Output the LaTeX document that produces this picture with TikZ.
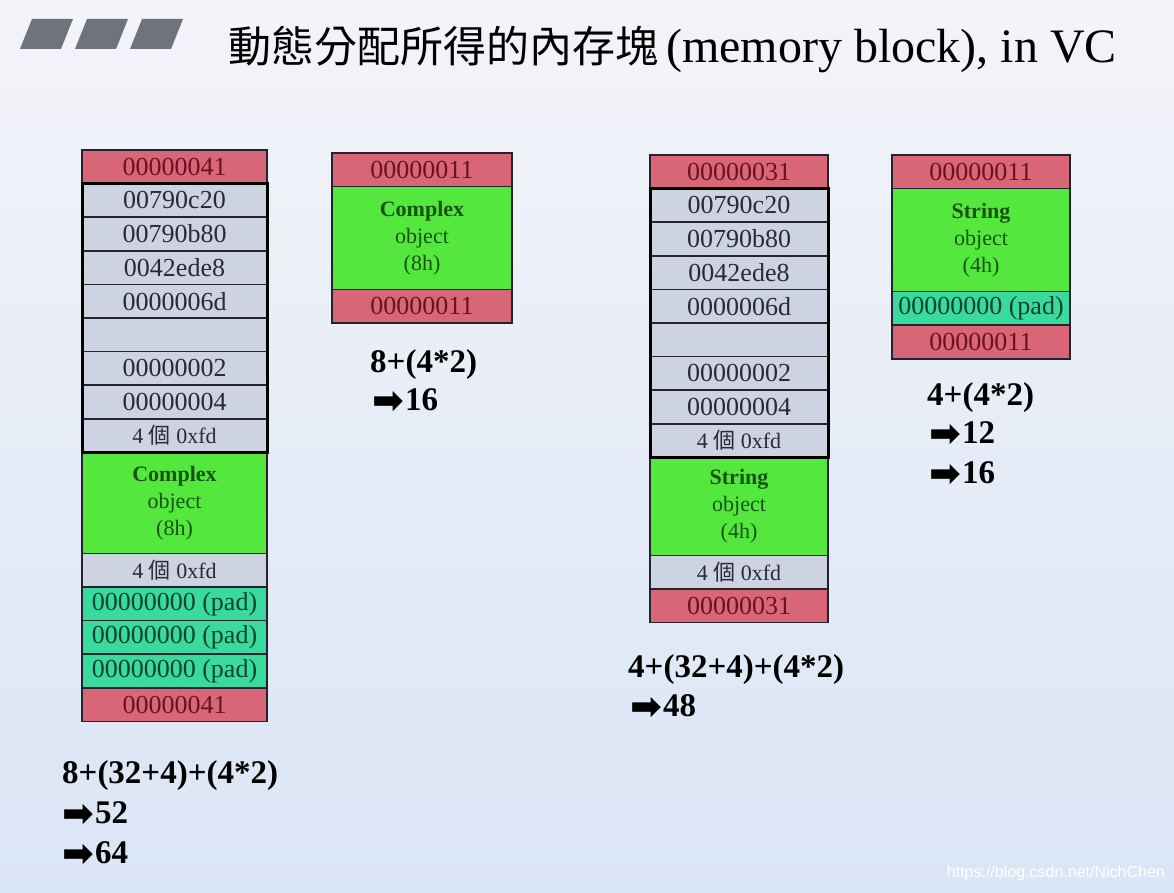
\documentclass[tikz,border=0pt]{standalone}
\usepackage{fontspec}
\setmainfont{Liberation Serif}
\newfontfamily\cjkfont{Noto Sans CJK TC}
\newfontfamily\symfont{DejaVu Sans}
\newfontfamily\urlfont{Liberation Sans}
\usetikzlibrary{positioning}
\definecolor{bgtop}{RGB}{243,244,248}
\definecolor{bgbot}{RGB}{218,229,246}
\definecolor{barfill}{RGB}{112,114,125}
\definecolor{cellline}{RGB}{35,35,48}
\definecolor{hdrred}{RGB}{216,102,118}
\definecolor{hdrtext}{RGB}{105,18,35}
\definecolor{dbggray}{RGB}{205,211,224}
\definecolor{dbgtext}{RGB}{38,42,58}
\definecolor{objgreen}{RGB}{84,232,62}
\definecolor{objtext}{RGB}{22,82,16}
\definecolor{padteal}{RGB}{58,218,158}
\definecolor{padtext}{RGB}{10,68,42}
\tikzset{
  cell/.style={draw=cellline, line width=1.6pt, minimum height=33.6pt,
    inner sep=0pt, outer sep=0pt, font=\fontsize{26}{28}\selectfont},
  hdr/.style={cell, fill=hdrred, text=hdrtext},
  dbg/.style={cell, fill=dbggray, text=dbgtext},
  fd/.style={dbg, font=\fontsize{22}{24}\selectfont},
  obj/.style={cell, fill=objgreen, text=objtext, align=center,
    font=\fontsize{22}{27}\selectfont},
  pad/.style={cell, fill=padteal, text=padtext},
  dbgframe/.style={draw=black, line width=3pt},
  sum/.style={anchor=base west, inner sep=0pt, font=\bfseries\fontsize{33}{33}\selectfont}
}
\newcommand{\arrowsym}{\raisebox{-3.5pt}{\symfont\fontsize{38}{38}\selectfont ➡}\hspace{1pt}}
\newcommand{\fdcount}{4 {\cjkfont 個} 0xfd}

\begin{document}
\begin{tikzpicture}[x=1pt, y=-1pt]
  \shade[top color=bgtop, bottom color=bgbot] (0,0) rectangle (1174,893);
  \useasboundingbox (0,0) rectangle (1174,893);
  % title
  \foreach \i in {0,1,2}
    \fill[barfill] ({20+55*\i},49) -- ({32+55*\i},19) -- ({73+55*\i},19) -- ({61+55*\i},49) -- cycle;
  \node[anchor=base west, inner sep=0pt, font=\fontsize{48}{48}\selectfont] (title) at (228,63)
    {{\cjkfont\fontsize{43}{43}\selectfont 動態分配所得的內存塊}\hspace{8pt}(memory block), in VC};

  % Complex, debug mode
  \begin{scope}[every node/.append style={minimum width=185pt}]
    \node[hdr, anchor=north west] (ca0) at (82,150) {00000041};
    \node[dbg, below=0pt of ca0] (ca1) {00790c20};
    \node[dbg, below=0pt of ca1] (ca2) {00790b80};
    \node[dbg, below=0pt of ca2] (ca3) {0042ede8};
    \node[dbg, below=0pt of ca3] (ca4) {0000006d};
    \node[dbg, below=0pt of ca4] (ca5) {};
    \node[dbg, below=0pt of ca5] (ca6) {00000002};
    \node[dbg, below=0pt of ca6] (ca7) {00000004};
    \node[fd, below=0pt of ca7] (ca8) {\fdcount};
    \node[obj, minimum height=101pt, below=0pt of ca8] (ca9) {\textbf{Complex}\\object\\(8h)};
    \node[fd, below=0pt of ca9] (ca10) {\fdcount};
    \node[pad, below=0pt of ca10] (ca11) {00000000 (pad)};
    \node[pad, below=0pt of ca11] (ca12) {00000000 (pad)};
    \node[pad, below=0pt of ca12] (ca13) {00000000 (pad)};
    \node[hdr, below=0pt of ca13] (ca14) {00000041};
  \end{scope}
  \draw[dbgframe] (ca1.north west) rectangle (ca8.south east);
  \node[sum] (suma) at (62,783) {8+(32+4)+(4*2)};
  \node[sum] (suma1) at (62,823) {\arrowsym52};
  \node[sum] (suma2) at (62,863) {\arrowsym64};

  % Complex, release mode
  \begin{scope}[every node/.append style={minimum width=180pt}]
    \node[hdr, anchor=north west] (cb0) at (332,153) {00000011};
    \node[obj, minimum height=103pt, below=0pt of cb0] (cb1) {\textbf{Complex}\\object\\(8h)};
    \node[hdr, below=0pt of cb1] (cb2) {00000011};
  \end{scope}
  \node[sum] (sumb) at (370,372) {8+(4*2)};
  \node[sum] (sumb1) at (372,410) {\arrowsym16};

  % String, debug mode
  \begin{scope}[every node/.append style={minimum width=178pt}]
    \node[hdr, anchor=north west] (sa0) at (650,155) {00000031};
    \node[dbg, below=0pt of sa0] (sa1) {00790c20};
    \node[dbg, below=0pt of sa1] (sa2) {00790b80};
    \node[dbg, below=0pt of sa2] (sa3) {0042ede8};
    \node[dbg, below=0pt of sa3] (sa4) {0000006d};
    \node[dbg, below=0pt of sa4] (sa5) {};
    \node[dbg, below=0pt of sa5] (sa6) {00000002};
    \node[dbg, below=0pt of sa6] (sa7) {00000004};
    \node[fd, below=0pt of sa7] (sa8) {\fdcount};
    \node[obj, minimum height=98pt, below=0pt of sa8] (sa9) {\textbf{String}\\object\\(4h)};
    \node[fd, below=0pt of sa9] (sa10) {\fdcount};
    \node[hdr, below=0pt of sa10] (sa11) {00000031};
  \end{scope}
  \draw[dbgframe] (sa1.north west) rectangle (sa8.south east);
  \node[sum] (sumc) at (628,677) {4+(32+4)+(4*2)};
  \node[sum] (sumc1) at (630,716) {\arrowsym48};

  % String, release mode
  \begin{scope}[every node/.append style={minimum width=178pt}]
    \node[hdr, anchor=north west] (sb0) at (892,155) {00000011};
    \node[obj, minimum height=103pt, below=0pt of sb0] (sb1) {\textbf{String}\\object\\(4h)};
    \node[pad, below=0pt of sb1] (sb2) {00000000 (pad)};
    \node[hdr, below=0pt of sb2] (sb3) {00000011};
  \end{scope}
  \node[sum] (sumd) at (927,405) {4+(4*2)};
  \node[sum] (sumd1) at (929,443) {\arrowsym12};
  \node[sum] (sumd2) at (929,483) {\arrowsym16};

  \node[anchor=base east, inner sep=0pt, text=white, font=\urlfont\fontsize{16}{16}\selectfont] (mark) at (1165,877) {https://blog.csdn.net/NichChen};
\end{tikzpicture}
\end{document}
